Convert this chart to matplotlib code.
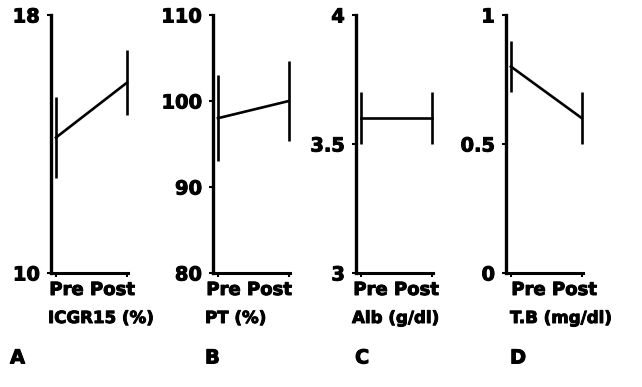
import matplotlib
matplotlib.use("Agg")
import matplotlib.pyplot as plt
import matplotlib.patheffects as pe

# values (mean +/- error, Pre vs Post)
labels = ["ICGR15 (%)", "PT (%)", "Alb (g/dl)", "T.B (mg/dl)"]
letters = ["A", "B", "C", "D"]
pre_mean = [14.2, 98.0, 3.6, 0.80]
pre_err = [1.25, 5.0, 0.10, 0.10]
post_mean = [15.9, 100.0, 3.6, 0.60]
post_err = [1.0, 4.6, 0.10, 0.10]
ylims = [(10, 18), (80, 110), (3, 4), (0, 1)]
yticks = [[10, 18], [80, 90, 100, 110], [3, 3.5, 4], [0, 0.5, 1]]
yticklabels = [["10", "18"], ["80", "90", "100", "110"], ["3", "3.5", "4"], ["0", "0.5", "1"]]

W, H = 642, 387
fig = plt.figure(figsize=(W / 100, H / 100), dpi=100)
plt.rcParams['font.family'] = ['DejaVu Sans']
heavy = [pe.withStroke(linewidth=0.7, foreground='black')]

# layout in pixels
ax_left = [51, 213, 356, 506]
ax_w = 78
ax_top, ax_bot = 15, 273
label_x = [48, 205, 352, 510]
letter_x = [10, 205, 355, 510]

for i in range(4):
    ax = fig.add_axes([ax_left[i] / W, 1 - ax_bot / H, ax_w / W, (ax_bot - ax_top) / H])
    x = [0, 1]
    means = [pre_mean[i], post_mean[i]]
    errs = [pre_err[i], post_err[i]]
    ax.errorbar(x, means, yerr=errs, color='black', lw=1.9, elinewidth=1.9, capsize=0)

    ax.set_xlim(-0.07, 1.03)
    ax.set_ylim(*ylims[i])
    ax.set_yticks(yticks[i])
    ax.set_yticklabels(yticklabels[i], fontsize=14, fontweight='bold')
    for t in ax.get_yticklabels():
        t.set_path_effects(heavy)
    ax.set_xticks([0, 1])
    ax.set_xticklabels(["", ""])
    ax.tick_params(axis='y', length=3, width=1.5, pad=5)
    ax.tick_params(axis='x', length=3, width=1.5)

    for s in ['top', 'right']:
        ax.spines[s].set_visible(False)
    ax.spines['left'].set_linewidth(2.4)
    ax.spines['bottom'].set_linewidth(2.2)
    ax.spines['bottom'].set_bounds(-0.03, 1.02)
    ax.patch.set_alpha(0)

    fig.text(label_x[i] / W + 0.002, 1 - 290 / H, "Pre Post", fontsize=13, fontweight='bold',
             ha='left', va='center', path_effects=heavy)
    fig.text(label_x[i] / W, 1 - 318 / H, labels[i], fontsize=12, fontweight='bold',
             ha='left', va='center', path_effects=heavy)
    fig.text(letter_x[i] / W, 1 - 358 / H, letters[i], fontsize=14, fontweight='bold',
             ha='left', va='center', path_effects=heavy)

fig.savefig("out.png", dpi=100)
